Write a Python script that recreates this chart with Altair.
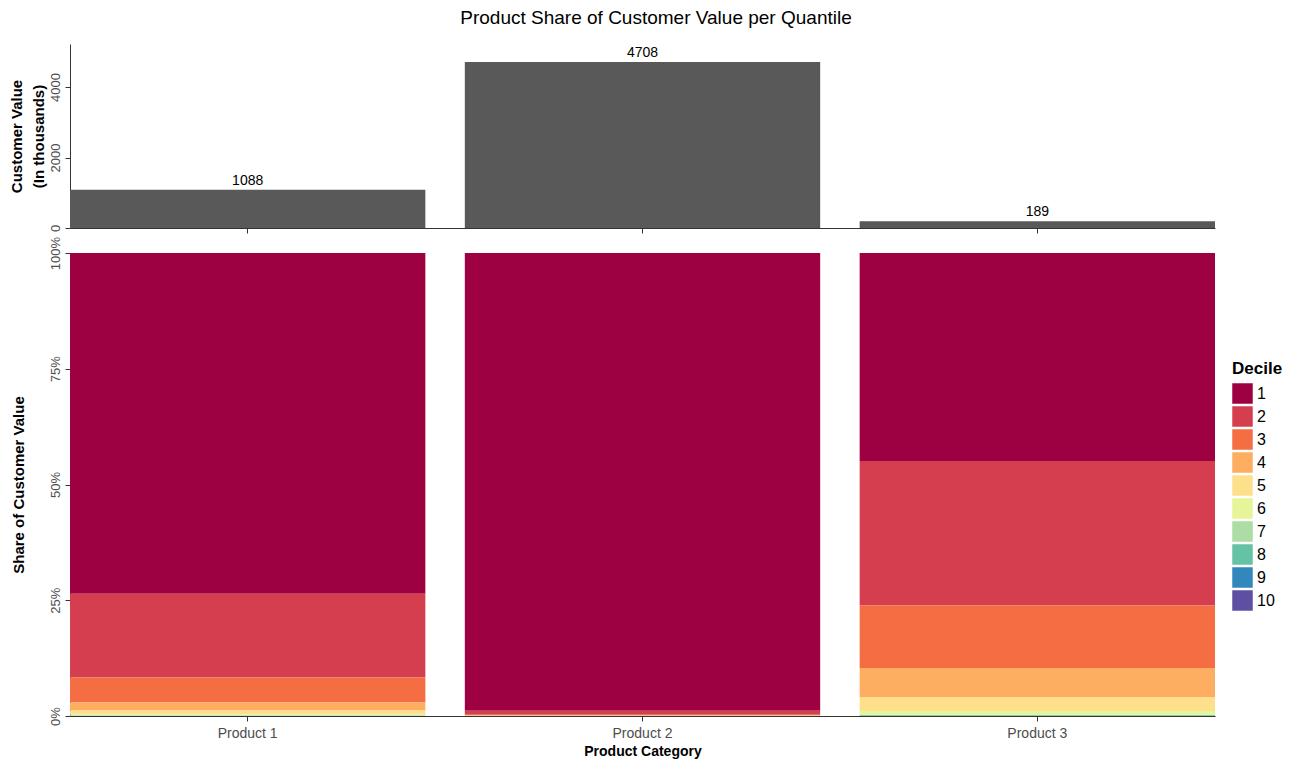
import altair as alt
import pandas as pd

products = ["Product 1", "Product 2", "Product 3"]
customer_value = [1088, 4708, 189]
deciles = [1, 2, 3, 4, 5, 6, 7, 8, 9, 10]
share_p1 = [73.6, 18.1, 5.4, 1.7, 0.9, 0.2, 0.05, 0.03, 0.01, 0.01]
share_p2 = [98.85, 0.9, 0.15, 0.05, 0.02, 0.01, 0.01, 0.005, 0.003, 0.002]
share_p3 = [44.9, 31.25, 13.5, 6.35, 2.9, 0.9, 0.05, 0.1, 0.03, 0.02]
palette = ["#9E0142", "#D53E4F", "#F46D43", "#FDAE61", "#FEE08B",
           "#E6F598", "#ABDDA4", "#66C2A5", "#3288BD", "#5E4FA2"]

FONT = "Liberation Sans"

top_df = pd.DataFrame({"product": products, "value": customer_value})
rows = []
for p, shares in zip(products, [share_p1, share_p2, share_p3]):
    for d, s in zip(deciles, shares):
        rows.append({"product": p, "decile": d, "share": s})
bot_df = pd.DataFrame(rows)

xscale = alt.Scale(domain=products, paddingInner=0.1, paddingOuter=0)

top_base = alt.Chart(top_df).encode(
    x=alt.X("product:N", scale=xscale, sort=products,
            axis=alt.Axis(title=None, labels=False, ticks=True, tickSize=5,
                          tickColor="#333333", domainColor="#333333", grid=False)),
    y=alt.Y("value:Q", scale=alt.Scale(domain=[0, 5220], nice=False, zero=True),
            axis=alt.Axis(title=["Customer Value", "(In thousands)"], values=[0, 2000, 4000],
                          format="d",
                          labelAngle=-90, labelAlign="center", labelBaseline="bottom",
                          labelColor="#4D4D4D", labelFontSize=13, labelPadding=3,
                          titleFontSize=15, titleFontWeight="bold", titleColor="black",
                          titleLineHeight=22, titlePadding=3,
                          tickColor="#333333", domainColor="#333333", grid=False)),
)
top_bars = top_base.mark_bar(color="#595959")
top_text = top_base.mark_text(dy=-9, fontSize=14, font=FONT, color="black").encode(
    text=alt.Text("value:Q", format="d"))
top = (top_bars + top_text).properties(width=1145, height=184)

bottom = alt.Chart(bot_df).mark_bar().encode(
    x=alt.X("product:N", scale=xscale, sort=products,
            axis=alt.Axis(title="Product Category", labelAngle=0, labelColor="#4D4D4D",
                          labelFontSize=14, labelPadding=5, titleFontSize=14,
                          titleFontWeight="bold", titleColor="black", titlePadding=4,
                          tickSize=5, tickColor="#333333", domainColor="#333333", grid=False)),
    y=alt.Y("share:Q", stack="normalize",
            scale=alt.Scale(domain=[0, 1], nice=False),
            axis=alt.Axis(title="Share of Customer Value", format=".0%",
                          values=[0, 0.25, 0.5, 0.75, 1],
                          labelAngle=-90, labelAlign="center", labelBaseline="bottom",
                          labelColor="#4D4D4D", labelFontSize=13, labelPadding=3,
                          titleFontSize=15, titleFontWeight="bold", titleColor="black",
                          titlePadding=23, tickColor="#333333", domainColor="#333333",
                          grid=False)),
    color=alt.Color("decile:O", scale=alt.Scale(domain=deciles, range=palette),
                    legend=alt.Legend(title="Decile", titleFontSize=17, titleFontWeight="bold",
                                      titleColor="black", labelFontSize=16, labelColor="black",
                                      symbolType="square", symbolSize=420,
                                      symbolStrokeWidth=0, symbolOpacity=1,
                                      rowPadding=2, orient="none",
                                      legendX=1162, legendY=317)),
    order=alt.Order("decile:Q", sort="descending"),
).properties(width=1145, height=463)

chart = alt.vconcat(top, bottom, spacing=2).properties(
    title=alt.TitleParams("Product Share of Customer Value per Quantile",
                          fontSize=19, fontWeight="normal", font=FONT,
                          anchor="middle", color="black", offset=16, dx=10),
    padding={"top": 1, "left": 1, "right": 5, "bottom": 5},
).configure(font=FONT).configure_view(stroke=None)

chart.save("out.html", embed_options={"renderer": "svg", "actions": False})
